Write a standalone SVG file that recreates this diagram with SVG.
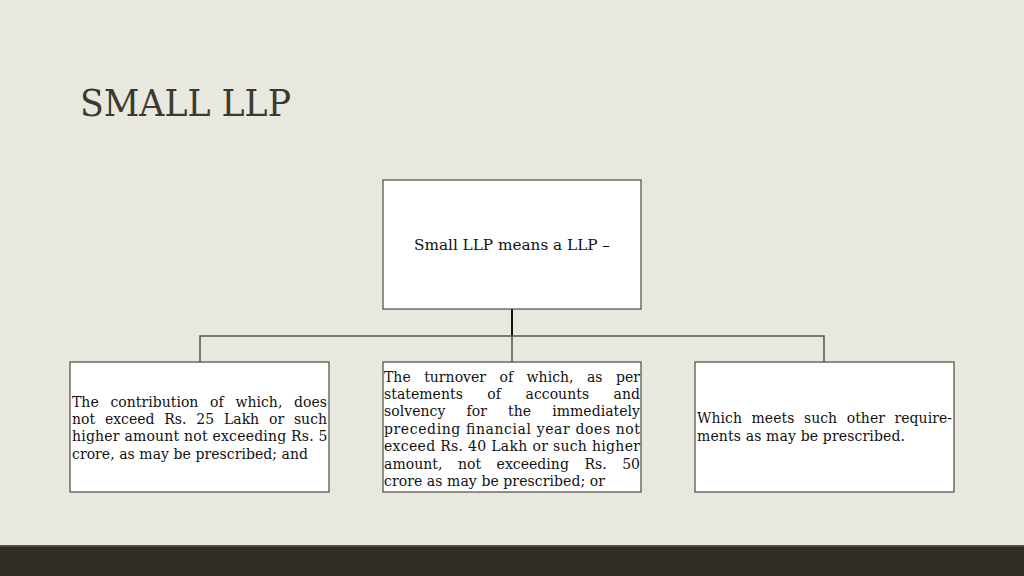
<svg xmlns="http://www.w3.org/2000/svg" width="1024" height="576" viewBox="0 0 1024 576">
<style>
.box{fill:#ffffff;stroke:#4a4a44;stroke-width:1.2}
.t{font-family:"DejaVu Serif","Liberation Serif",serif;font-size:14px;fill:#111}
.conn{stroke:#55554d;stroke-width:1.5;fill:none}
</style>
<rect x="0" y="0" width="1024" height="576" fill="#e8e8de"/>
<rect x="0" y="545" width="1024" height="31" fill="#2f2d25"/>
<rect x="0" y="545" width="1024" height="1.5" fill="#55554b"/>
<text x="80" y="116" font-family="'DejaVu Serif','Liberation Serif',serif" font-size="37" fill="#3b3a30" textLength="211" lengthAdjust="spacingAndGlyphs">SMALL LLP</text>
<g id="connectors">
<line x1="512" y1="309" x2="512" y2="336" stroke="#111" stroke-width="2"/>
<polyline class="conn" points="200,362 200,336 824,336 824,362"/>
<line class="conn" x1="512" y1="336" x2="512" y2="362"/>
</g>
<g id="node-root">
<rect class="box" x="383" y="180" width="258" height="129"/>
<text class="t" x="414" y="250" textLength="196" lengthAdjust="spacingAndGlyphs">Small LLP means a LLP –</text>
</g>
<g id="node-contribution">
<rect class="box" x="70" y="362" width="259" height="130"/>
<text class="t" x="72" y="406.5" word-spacing="7.2" textLength="255" lengthAdjust="spacing">The contribution of which, does</text>
<text class="t" x="72" y="424" word-spacing="5.4" textLength="255" lengthAdjust="spacing">not exceed Rs. 25 Lakh or such</text>
<text class="t" x="72" y="441.4" textLength="255.5" lengthAdjust="spacing">higher amount not exceeding Rs. 5</text>
<text class="t" x="72" y="458.8" textLength="236" lengthAdjust="spacing">crore, as may be prescribed; and</text>
</g>
<g id="node-turnover">
<rect class="box" x="383" y="362" width="258" height="130"/>
<text class="t" x="384" y="381.5" word-spacing="9" textLength="256" lengthAdjust="spacing">The turnover of which, as per</text>
<text class="t" x="384" y="398.9" word-spacing="20" textLength="256" lengthAdjust="spacing">statements of accounts and</text>
<text class="t" x="384" y="416.3" word-spacing="16.6" textLength="256" lengthAdjust="spacing">solvency for the immediately</text>
<text class="t" x="384" y="433.7" textLength="256" lengthAdjust="spacing">preceding financial year does not</text>
<text class="t" x="384" y="451.1" textLength="256" lengthAdjust="spacing">exceed Rs. 40 Lakh or such higher</text>
<text class="t" x="384" y="468.5" word-spacing="11" textLength="256" lengthAdjust="spacing">amount, not exceeding Rs. 50</text>
<text class="t" x="384" y="485.9" textLength="221" lengthAdjust="spacing">crore as may be prescribed; or</text>
</g>
<g id="node-other">
<rect class="box" x="695" y="362" width="259" height="130"/>
<text class="t" x="697" y="423.3" word-spacing="5" textLength="255" lengthAdjust="spacing">Which meets such other require-</text>
<text class="t" x="697" y="440.8" textLength="208" lengthAdjust="spacing">ments as may be prescribed.</text>
</g>
</svg>
